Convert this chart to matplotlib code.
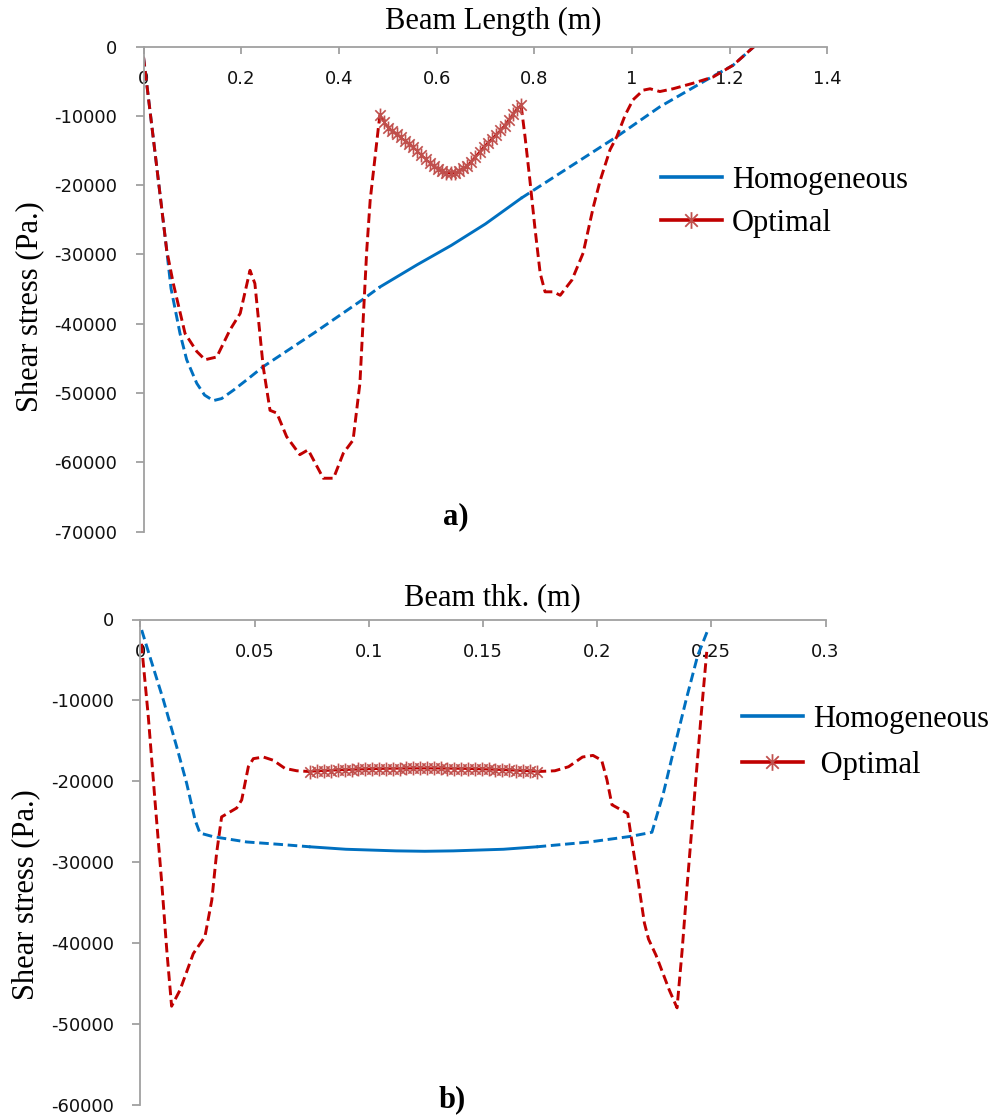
import numpy as np
import matplotlib
matplotlib.use("Agg")
import matplotlib.pyplot as plt
from matplotlib.lines import Line2D
from matplotlib.path import Path

plt.rcParams["axes.unicode_minus"] = False

# ---------------- a) shear stress along the beam length ----------------
len_homog_x = [0.0, 0.027, 0.0475, 0.0563, 0.0747, 0.0884, 0.109, 0.125, 0.143, 0.16,
               0.184, 0.215, 0.245, 0.35, 0.447, 0.484, 0.56, 0.63, 0.70, 0.773,
               0.85, 0.969, 1.057, 1.153, 1.207, 1.25]
len_homog_y = [-1500, -17300, -29400, -34900, -41400, -45200, -48600, -50300, -51100, -50800,
               -49600, -47900, -46200, -41300, -36600, -34700, -31500, -28700, -25600, -21900,
               -18400, -13000, -8700, -4800, -2700, 0]

len_opt_x = [0.0, 0.027, 0.0475, 0.061, 0.085, 0.109, 0.126, 0.15, 0.177, 0.198,
             0.218, 0.228, 0.245, 0.259, 0.273, 0.293, 0.32, 0.337, 0.368, 0.389,
             0.409, 0.429, 0.443, 0.45, 0.457, 0.464, 0.481,
             0.484, 0.4925, 0.501, 0.5095, 0.518, 0.5265, 0.535, 0.5435, 0.552, 0.5605,
             0.569, 0.5775, 0.586, 0.5945, 0.603, 0.6115, 0.620, 0.6285, 0.637, 0.6455,
             0.654, 0.6625, 0.671, 0.6795, 0.688, 0.6965, 0.705, 0.7135, 0.722, 0.7305,
             0.739, 0.7475, 0.756, 0.7645, 0.773,
             0.781, 0.791, 0.801, 0.812, 0.822, 0.839, 0.853, 0.877, 0.9, 0.921,
             0.935, 0.955, 0.969, 0.986, 1.002, 1.023, 1.037, 1.057, 1.084, 1.125,
             1.166, 1.207, 1.25]
len_opt_y = [-1500, -17300, -29400, -34200, -41400, -44000, -45200, -44800, -40900, -38500,
             -32300, -34200, -46200, -52500, -52900, -56300, -58900, -58200, -62300, -62300,
             -58700, -56800, -48600, -39000, -29400, -22200, -11600,
             -9900, -10900, -11700, -12200, -12600, -13100, -13600, -14000, -14500, -15100,
             -15700, -16200, -16800, -17300, -17700, -18000, -18200, -18300, -18200, -18000,
             -17600, -17200, -16600, -15900, -15200, -14500, -13900, -13300, -12700, -12100,
             -11400, -10600, -9800, -9000, -8500,
             -13000, -19300, -26000, -32700, -35400, -35400, -35900, -33700, -29800, -23100,
             -19300, -14900, -13000, -9900, -7700, -6300, -6100, -6500, -6100, -5300,
             -4400, -2700, 0]
len_dense = (0.484, 0.773)

len_xticks = [0, 0.2, 0.4, 0.6, 0.8, 1.0, 1.2, 1.4]
len_xlabels = ["0", "0.2", "0.4", "0.6", "0.8", "1", "1.2", "1.4"]
len_yticks = [0, -10000, -20000, -30000, -40000, -50000, -60000, -70000]

# ---------------- b) shear stress through the beam thickness ----------------
thk_homog_x = [0.0006, 0.0042, 0.0101, 0.0159, 0.0203, 0.024, 0.0261, 0.032, 0.0466, 0.0612,
               0.0745, 0.09, 0.112, 0.1245, 0.137, 0.159, 0.1735, 0.1967, 0.2149, 0.2240,
               0.2290, 0.2335, 0.2390, 0.2440, 0.2482]
thk_homog_y = [-1300, -4600, -9950, -15700, -20250, -24800, -26400, -26850, -27500, -27800,
               -28100, -28400, -28600, -28650, -28600, -28400, -28100, -27500, -26800, -26300,
               -21500, -16200, -9900, -4500, -1500]

thk_opt_x = [0.0005, 0.0035, 0.0064, 0.0094, 0.0116, 0.0137, 0.0174, 0.0232, 0.0283, 0.0313,
             0.0334, 0.0356, 0.0422, 0.0444, 0.0473, 0.0495, 0.0539, 0.0582, 0.0633, 0.0685,
             0.0745, 0.0775, 0.0805, 0.0835, 0.0865, 0.0895, 0.0925, 0.0955, 0.0985, 0.1015,
             0.1045, 0.1075, 0.1105, 0.1135, 0.1165, 0.1195, 0.1225, 0.1255, 0.1285, 0.1315,
             0.1345, 0.1375, 0.1405, 0.1435, 0.1465, 0.1495, 0.1525, 0.1555, 0.1585, 0.1615,
             0.1645, 0.1675, 0.1705, 0.1735,
             0.1815, 0.1875, 0.1936, 0.1982, 0.2020, 0.2043, 0.2065, 0.2103, 0.2134, 0.2149,
             0.2179, 0.2207, 0.2225, 0.2258, 0.2316, 0.2350, 0.2372, 0.2395, 0.2425, 0.2455,
             0.2480]
thk_opt_y = [-3000, -12000, -22300, -32600, -40900, -47800, -45800, -41300, -39200, -34700,
             -28900, -24400, -23300, -22300, -18200, -17200, -17000, -17400, -18400, -18700,
             -18800, -18750, -18700, -18670, -18630, -18590, -18560, -18530, -18510, -18480,
             -18460, -18440, -18430, -18420, -18410, -18400, -18400, -18400, -18400, -18410,
             -18420, -18430, -18440, -18460, -18480, -18510, -18530, -18560, -18590, -18630,
             -18670, -18700, -18750, -18800,
             -18700, -18200, -17000, -16800, -17400, -19800, -22900, -23500, -24000, -26800,
             -32200, -37500, -39500, -41500, -45800, -48000, -41000, -32600, -22300, -12000,
             -4000]
thk_dense = (0.0745, 0.1735)

thk_xticks = [0, 0.05, 0.1, 0.15, 0.2, 0.25, 0.3]
thk_xlabels = ["0", "0.05", "0.1", "0.15", "0.2", "0.25", "0.3"]
thk_yticks = [0, -10000, -20000, -30000, -40000, -50000, -60000]

# ---------------- styling ----------------
BLUE = "#0070C0"
RED = "#C00000"
STAR_COLOR = "#C0504D"
AXIS_GRAY = "#A0A0A0"
TICK_TEXT = "#111111"
SERIF = ["Liberation Serif", "DejaVu Serif"]
SANS = ["DejaVu Sans"]

# asterisk marker: vertical stroke plus an X
star = Path([(0, -1), (0, 1), (-0.75, -0.75), (0.75, 0.75), (-0.75, 0.75), (0.75, -0.75)],
            [Path.MOVETO, Path.LINETO] * 3)

W, H = 995, 1118
fig = plt.figure(figsize=(W / 100, H / 100), dpi=100)


def px_axes(left, top, right, bottom):
    return fig.add_axes([left / W, 1 - bottom / H, (right - left) / W, (bottom - top) / H])


def split(x, y, lo, hi):
    x = np.asarray(x, float)
    y = np.asarray(y, float)
    a = x <= lo + 1e-9
    b = (x >= lo - 1e-9) & (x <= hi + 1e-9)
    c = x >= hi - 1e-9
    return (x[a], y[a]), (x[b], y[b]), (x[c], y[c])


def draw(ax, hx, hy, ox, oy, dense):
    dash = dict(linestyle=(0, (3.3, 1.6)), lw=2.1, dash_capstyle="butt")
    h_left, h_mid, h_right = split(hx, hy, *dense)
    ax.plot(*h_left, color=BLUE, **dash)
    ax.plot(*h_mid, color=BLUE, lw=2.1)
    ax.plot(*h_right, color=BLUE, **dash)
    o_left, o_mid, o_right = split(ox, oy, *dense)
    ax.plot(*o_left, color=RED, **dash)
    ax.plot(*o_right, color=RED, **dash)
    ax.plot(*o_mid, color=RED, lw=1.6, marker=star, ms=10, mfc="none",
            mec=STAR_COLOR, mew=1.2)


def style(ax, xmax, ymin, xticks, xlabels, yticks):
    ax.set_xlim(0, xmax)
    ax.set_ylim(ymin, 0)
    for s in ("right", "bottom"):
        ax.spines[s].set_visible(False)
    for s in ("left", "top"):
        ax.spines[s].set_color(AXIS_GRAY)
        ax.spines[s].set_linewidth(1.3)
    ax.xaxis.tick_top()
    ax.set_xticks(xticks)
    ax.set_xticklabels(xlabels, family=SANS, fontsize=13, color=TICK_TEXT)
    ax.set_yticks(yticks)
    ax.set_yticklabels([str(v) for v in yticks], family=SANS, fontsize=13, color=TICK_TEXT)
    ax.tick_params(axis="x", direction="in", length=5, width=1.3, color=AXIS_GRAY, pad=-30)
    ax.tick_params(axis="y", direction="out", length=6, width=1.3, color=AXIS_GRAY, pad=13)
    ax.patch.set_visible(False)


def legend(ax, x0, ymid, spacing, opt_label):
    handles = [Line2D([], [], color=BLUE, lw=2.6),
               Line2D([], [], color=RED, lw=2.6, marker=star, ms=12, mfc="none",
                      mec=STAR_COLOR, mew=1.3)]
    ax.legend(handles, ["Homogeneous", opt_label], loc="center left",
              bbox_to_anchor=(x0 / W, 1 - ymid / H), bbox_transform=fig.transFigure,
              frameon=False, borderpad=0, borderaxespad=0, handlelength=2.0,
              handletextpad=0.34, labelspacing=spacing, numpoints=1,
              prop=dict(family=SERIF, size=22))


# panel a
ax1 = px_axes(143.5, 46.5, 827.4, 531.6)
draw(ax1, len_homog_x, len_homog_y, len_opt_x, len_opt_y, len_dense)
style(ax1, 1.4, -70000, len_xticks, len_xlabels, len_yticks)
ax1.set_ylabel("Shear stress (Pa.)", family=SERIF, fontsize=22)
ax1.yaxis.set_label_coords((44 - 143.5) / (827.4 - 143.5), (531.6 - 307) / (531.6 - 46.5))
legend(ax1, 660.7, 202, 0.45, "Optimal")
fig.text(493.5 / W, 1 - 21 / H, "Beam Length (m)", family=SERIF, fontsize=22,
         ha="center", va="center")
fig.text(456 / W, 1 - 517 / H, "a)", family=SERIF, fontsize=22, weight="bold",
         ha="center", va="center")

# panel b
ax2 = px_axes(140.3, 619.5, 825.5, 1104.9)
draw(ax2, thk_homog_x, thk_homog_y, thk_opt_x, thk_opt_y, thk_dense)
style(ax2, 0.3, -60000, thk_xticks, thk_xlabels, thk_yticks)
ax2.set_ylabel("Shear stress (Pa.)", family=SERIF, fontsize=22)
ax2.yaxis.set_label_coords((40 - 140.3) / (825.5 - 140.3), (1104.9 - 895) / (1104.9 - 619.5))
legend(ax2, 741.7, 742.5, 0.56, " Optimal")
fig.text(492 / W, 1 - 598 / H, "Beam thk. (m)", family=SERIF, fontsize=22,
         ha="center", va="center")
fig.text(452 / W, 1 - 1100 / H, "b)", family=SERIF, fontsize=22, weight="bold",
         ha="center", va="center")

fig.savefig("out.png", dpi=100)
